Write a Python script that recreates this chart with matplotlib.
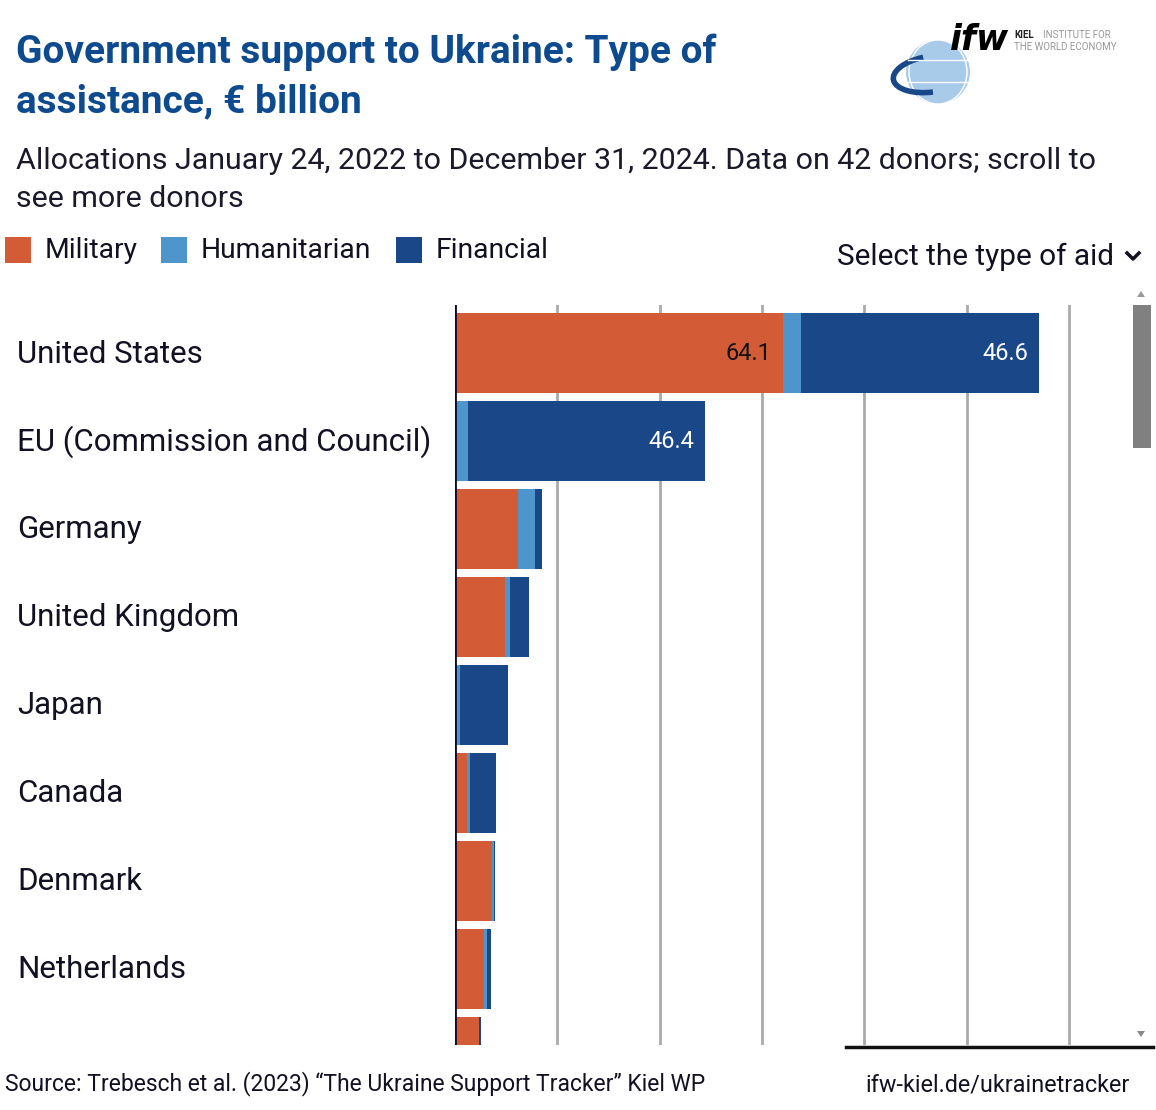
import matplotlib
matplotlib.use("Agg")
import matplotlib.pyplot as plt
from matplotlib.patches import Rectangle, Circle, Ellipse, Polygon, Arc
import numpy as np

plt.rcParams['font.family'] = ['Roboto', 'DejaVu Sans']

countries = ["United States", "EU (Commission and Council)", "Germany", "United Kingdom",
             "Japan", "Canada", "Denmark", "Netherlands", "Sweden"]
military = [64.1, 0.0, 12.4, 9.8, 0.0, 2.4, 7.3, 5.7, 4.6]
humanitarian = [3.5, 2.5, 3.3, 1.0, 1.0, 0.6, 0.3, 0.6, 0.1]
financial = [46.6, 46.4, 1.4, 3.7, 9.4, 5.1, 0.2, 0.8, 0.3]
series_names = ["Military", "Humanitarian", "Financial"]
colors = ["#D35C37", "#4E95CB", "#1A4788"]
xticks = [0, 20, 40, 60, 80, 100, 120]

W, H = 1156, 1110
fig = plt.figure(figsize=(W / 100, H / 100), dpi=100)

def fx(px):
    return px / W

def fy(py):
    return 1 - py / H

# Title & subtitle
title_c = "#0E4A8E"
fig.text(fx(16), fy(63), "Government support to Ukraine: Type of", fontsize=28,
         fontweight='bold', color=title_c, va='baseline')
fig.text(fx(16), fy(112), "assistance, € billion", fontsize=28,
         fontweight='bold', color=title_c, va='baseline')
sub_c = "#1a1a2a"
fig.text(fx(16), fy(169), "Allocations January 24, 2022 to December 31, 2024. Data on 42 donors; scroll to",
         fontsize=21.85, fontweight='normal', color=sub_c, va='baseline')
fig.text(fx(16), fy(207), "see more donors", fontsize=21.85, fontweight='normal', color=sub_c, va='baseline')

# Legend
leg_x = [5, 161, 396]
for lx, name, c in zip(leg_x, series_names, colors):
    fig.patches.append(Rectangle((fx(lx), fy(263)), 26 / W, 26 / H, transform=fig.transFigure,
                                 facecolor=c, edgecolor='none'))
    fig.text(fx(lx + 40), fy(251), name, fontsize=20.3, color="#111122", va='center')

# Dropdown
fig.text(fx(837), fy(257), "Select the type of aid", fontsize=21.4, color="#111122", va='center')
fig.lines.append(plt.Line2D([fx(1127), fx(1133), fx(1139)], [fy(253), fy(259), fy(253)],
                            transform=fig.transFigure, color="#111122", lw=2.5))

# Main axes
ax_left, ax_right, ax_top, ax_bot = 455, 1120, 305, 1045
ax = fig.add_axes([fx(ax_left), fy(ax_bot), (ax_right - ax_left) / W, (ax_bot - ax_top) / H])
px_per_unit = (1069 - 455) / 120.0
ax.set_xlim(0, (ax_right - ax_left) / px_per_unit)
step = 88.0
ax.set_ylim((ax_bot - 353) / step, -(353 - ax_top) / step)

y = np.arange(len(countries))
bh = 80 / step
left = np.zeros(len(countries))
for vals, c in zip([military, humanitarian, financial], colors):
    v = np.array(vals)
    ax.barh(y, v, left=left, height=bh, color=c, edgecolor='none', zorder=3)
    for i in range(len(countries)):
        if v[i] > 30:
            tc = "#111111" if c == colors[0] else "white"
            ax.text(left[i] + v[i] - 2.2, y[i], f"{v[i]:.1f}", ha='right', va='center',
                    fontsize=17, color=tc, zorder=5)
    left = left + v

for t in xticks[1:]:
    ax.axvline(t, color="#AAAAAA", lw=2, zorder=1)
ax.axvline(0, color="#0A0A28", lw=2, zorder=6)

ax.set_xticks([])
ax.set_yticks([])
for s in ax.spines.values():
    s.set_visible(False)

# Country labels (figure text so the clipped last row is not shown)
for i, name in enumerate(countries[:8]):
    fig.text(fx(17), fy(354 + i * step), name, fontsize=22.5, color="#111122", va='center')

# Scrollbar
fig.patches.append(Rectangle((fx(1133), fy(448)), 18 / W, 143 / H, transform=fig.transFigure,
                             facecolor="#808080", edgecolor='none'))
fig.patches.append(Polygon([[fx(1137), fy(297)], [fx(1145), fy(297)], [fx(1141), fy(291)]],
                           closed=True, transform=fig.transFigure, facecolor="#999999", edgecolor='none'))
fig.patches.append(Polygon([[fx(1137), fy(1031)], [fx(1145), fy(1031)], [fx(1141), fy(1037)]],
                           closed=True, transform=fig.transFigure, facecolor="#888888", edgecolor='none'))
fig.lines.append(plt.Line2D([fx(846), fx(1153)], [fy(1047), fy(1047)], transform=fig.transFigure,
                            color="#111111", lw=2.5))

# Footer
fig.text(fx(5), fy(1084), "Source: Trebesch et al. (2023) “The Ukraine Support Tracker” Kiel WP",
         fontsize=16.5, color="#111122", va='center')
fig.text(fx(1130), fy(1085), "ifw-kiel.de/ukrainetracker", fontsize=16.8, color="#111122",
         va='center', ha='right')

# Logo
lax = fig.add_axes([fx(885), fy(110), 270 / W, 100 / H])
lax.set_xlim(885, 1155)
lax.set_ylim(110, 10)
lax.set_aspect('equal')
lax.axis('off')
lax.add_patch(Circle((938, 72), 32, facecolor="#A9CBEA", edgecolor='none'))
lax.add_patch(Ellipse((938, 72), 58, 64, facecolor='none', edgecolor='white', lw=1))
lax.plot([908, 968], [60, 60], color='white', lw=1)
lax.plot([907, 969], [82, 82], color='white', lw=1)
lax.add_patch(Arc((932, 74), 78, 36, angle=-8, theta1=95, theta2=250, color="#1A4788", lw=4))
lax.text(950, 50, "ifw", fontsize=25, fontweight='bold', fontstyle='italic', color='black',
         va='baseline', family='DejaVu Sans')
lax.text(1014, 38, "KIEL", fontsize=7, fontweight='bold', color='#222222', va='baseline')
lax.text(1043, 38, "INSTITUTE FOR", fontsize=7, color='#999999', va='baseline')
lax.text(1014, 50, "THE WORLD ECONOMY", fontsize=7, color='#999999', va='baseline')

fig.savefig("out.png", dpi=100)
